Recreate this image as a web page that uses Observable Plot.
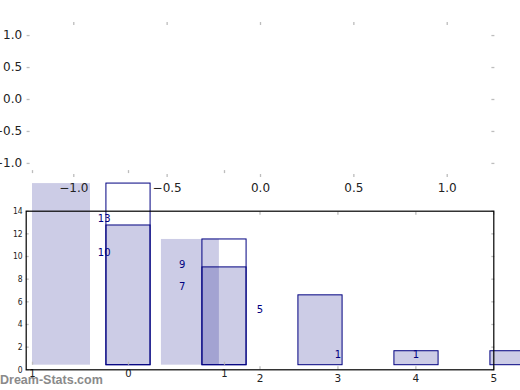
<!DOCTYPE html>
<html><head><meta charset="utf-8">
<script src="https://cdn.jsdelivr.net/npm/d3@7"></script>
<script src="https://cdn.jsdelivr.net/npm/@observablehq/plot@0.6"></script>
<style>
html,body{margin:0;padding:0;background:#fff;}
#chart{position:relative;width:520px;height:390px;overflow:hidden;font-family:"DejaVu Sans",sans-serif;}
#chart svg{position:absolute;left:0;top:0;background:transparent;overflow:visible;}
#wm{position:absolute;left:0;top:373px;font:bold 12.5px "Liberation Sans",Arial,sans-serif;color:#8a8a8a;white-space:nowrap;}
</style></head><body>
<div id="chart"><div id="wm">Dream-Stats.com</div></div>
<script>
// ---- data ----
const topXTicks = [-1, -0.5, 0, 0.5, 1];
const topYTicks = [-1, -0.5, 0, 0.5, 1];
const lowYTicks = [0, 2, 4, 6, 8, 10, 12, 14];
const lowXTicks = [2, 3, 4, 5];
const aXTicks = [-1, 0, 1];
const aXTickLabels = ["1", "0", "1"];
const highPositions = [0, 1];
const highValues = [13, 9];
const lowPositions = [0, 1, 2, 3, 4];
const lowValues = [10, 7, 5, 1, 1];
const labelPositions = [0, 0, 1, 1, 2, 3, 4];
const labelValues = [13, 10, 9, 7, 5, 1, 1];

// ---- style constants ----
const W = 520, H = 390;
const tickGray = "#bdbdbd";
const navy = "#000080";
const style = {background: "transparent", overflow: "visible", fontFamily: "DejaVu Sans"};
const chart = document.getElementById("chart");

function ticksKy(fn, ticks, anchor, off) {
  const o = {anchor, tickSize: 3, stroke: tickGray, strokeWidth: 1.3, fill: "none", label: null};
  if (anchor === "left") o.dx = off; else if (anchor === "right") o.dx = -off;
  else if (anchor === "top") o.dy = off; else o.dy = -off;
  return fn(ticks, o);
}

// ---- layer C: unoutlined bars ----
const highIdx = d3.range(highValues.length);
const layerC = Plot.plot({
  width: W, height: H, style,
  marginLeft: 9.44, marginRight: 33.6, marginTop: 169.1, marginBottom: 25.3,
  x: {domain: [-0.4, 3.3], label: null, axis: null},
  y: {domain: [0, 14], label: null, axis: null},
  marks: [
    Plot.rectY(highIdx, {x1: i => highPositions[i] - 0.225, x2: i => highPositions[i] + 0.225,
      y1: 0, y2: i => highValues[i], fill: navy, fillOpacity: 0.2, inset: 0})
  ]
});

// ---- layer A: outlined bars ----
const lowIdx = d3.range(lowValues.length);
const layerA = Plot.plot({
  width: W, height: H, style,
  marginLeft: 12.8, marginRight: 8, marginTop: 169.1, marginBottom: 25.3,
  x: {domain: [-1.2, 4.0], label: null},
  y: {domain: [0, 14], label: null, axis: null},
  marks: [
    Plot.rectY(highIdx, {x1: i => highPositions[i] - 0.23, x2: i => highPositions[i] + 0.23,
      y1: 0, y2: i => highValues[i], fill: "none", stroke: navy, strokeWidth: 1, inset: 0}),
    Plot.rectY(lowIdx, {x1: i => lowPositions[i] - 0.23, x2: i => lowPositions[i] + 0.23,
      y1: 0, y2: i => lowValues[i], fill: navy, fillOpacity: 0.2, stroke: navy, strokeWidth: 1, inset: 0}),
    ticksKy(Plot.axisX, aXTicks, "bottom", 3),
    ticksKy(Plot.axisX, aXTicks, "top", 3),
    Plot.axisX(aXTicks, {anchor: "bottom", tickSize: 0, tickPadding: 5, fontSize: 10, fill: "#222",
      tickFormat: (d) => aXTickLabels[aXTicks.indexOf(d)], label: null})
  ]
});

// ---- layer B: lower frame, axes, value labels ----
const labIdx = d3.range(labelValues.length);
const layerB = Plot.plot({
  width: W, height: H, style,
  marginLeft: 25.7, marginRight: 26.7, marginTop: 210.7, marginBottom: 20.7,
  x: {domain: [-1, 5], label: null},
  y: {domain: [0, 14], label: null},
  marks: [
    ticksKy(Plot.axisY, lowYTicks, "left", 3),
    ticksKy(Plot.axisY, lowYTicks, "right", 3),
    ticksKy(Plot.axisX, lowXTicks, "bottom", 3),
    ticksKy(Plot.axisX, lowXTicks, "top", 3),
    Plot.axisY(lowYTicks, {anchor: "left", tickSize: 0, tickPadding: 3.5, fontSize: 8.5, fill: "#222",
      fontFamily: "DejaVu Sans Condensed", label: null}),
    Plot.axisX(lowXTicks, {anchor: "bottom", tickSize: 0, tickPadding: 5, fontSize: 10.5, fill: "#222", label: null}),
    Plot.text(labIdx, {x: i => labelPositions[i], y: i => labelValues[i], text: i => String(labelValues[i]),
      fill: navy, fontSize: 10, dy: -3.5}),
    Plot.frame({stroke: "black", strokeWidth: 1.2})
  ]
});

// ---- layer T: upper empty axes ----
const layerT = Plot.plot({
  width: W, height: H, style,
  marginLeft: 26.6, marginRight: 26.6, marginTop: 21, marginBottom: 213,
  x: {domain: [-1.25, 1.25], label: null},
  y: {domain: [-1.22, 1.22], label: null},
  marks: [
    ticksKy(Plot.axisY, topYTicks, "left", 3),
    ticksKy(Plot.axisY, topYTicks, "right", 3),
    ticksKy(Plot.axisX, topXTicks, "bottom", 3),
    ticksKy(Plot.axisX, topXTicks, "top", 3),
    Plot.axisY(topYTicks, {anchor: "left", tickSize: 0, tickPadding: 5, fontSize: 12, fill: "#222",
      tickFormat: d3.format(".1f"), label: null}),
    Plot.axisX(topXTicks, {anchor: "bottom", tickSize: 0, tickPadding: 5.5, fontSize: 12, fill: "#222",
      tickFormat: d3.format(".1f"), label: null})
  ]
});

const wm = document.getElementById("wm");
for (const l of [layerC, layerA, layerB, layerT]) chart.insertBefore(l, wm);
</script>
</body></html>
